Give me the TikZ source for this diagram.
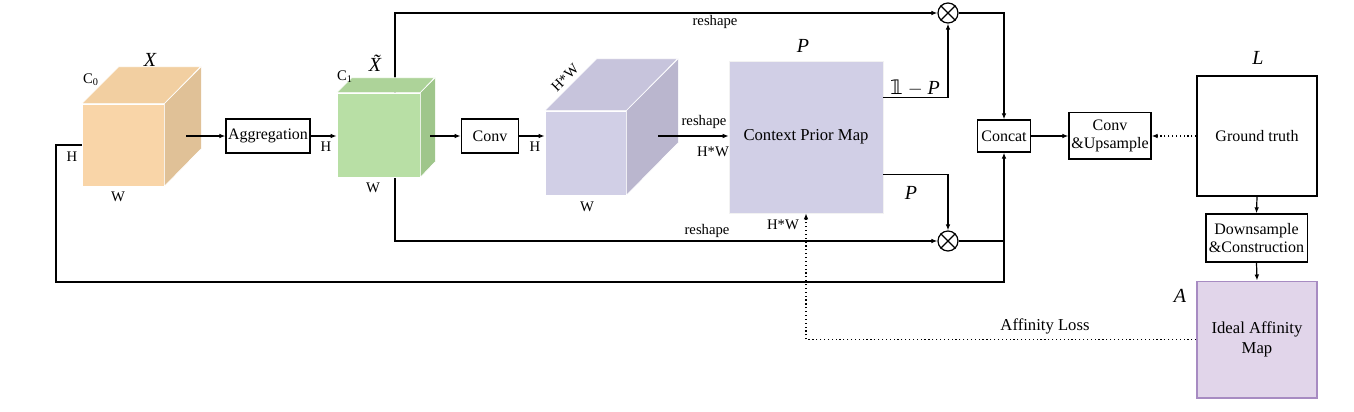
\documentclass[tikz,border=0pt]{standalone}
\usepackage{fontspec}
\setmainfont{Liberation Serif}
\newfontfamily\symfont{DejaVu Sans}
\usetikzlibrary{arrows.meta,calc}

\definecolor{xfront}{HTML}{F9D5A8}
\definecolor{xtop}{HTML}{F2CFA1}
\definecolor{xside}{HTML}{E0C197}
\definecolor{gfront}{HTML}{B8DFA5}
\definecolor{gtop}{HTML}{ADD399}
\definecolor{gside}{HTML}{9FC68B}
\definecolor{pfront}{HTML}{D1CFE6}
\definecolor{ptop}{HTML}{C7C4DC}
\definecolor{pside}{HTML}{BAB6CE}
\definecolor{iamfill}{HTML}{E1D5EA}
\definecolor{iamline}{HTML}{A78BC2}

\tikzset{
  box/.style={draw, line width=1pt, inner sep=1.5pt, align=center, font=\fontsize{12}{13.5}\selectfont},
  lbl/.style={inner sep=1pt, font=\fontsize{11}{12}\selectfont},
  sym/.style={inner sep=1pt, font=\fontsize{15}{16}\selectfont\itshape},
  face/.style={draw=white, line width=0.5pt},
  arr/.style={line width=0.9pt, -{Latex[length=4.5pt,width=3.5pt]}},
  wire/.style={line width=0.9pt},
  mul/.style={draw, circle, line width=0.9pt, minimum size=15pt, inner sep=0pt}
}

\begin{document}
\begin{tikzpicture}
[x=0.75pt,y=-0.75pt]
  \useasboundingbox (0,0) rectangle (1354,411);

  % splits from the green cube, drawn behind it
  \coordinate (gsplit) at (395,136);
  \node[mul] (mulT) at (948,13) {};
  \node[mul] (mulB) at (948,241) {};
  \draw[wire] (mulT.north west) -- (mulT.south east) (mulT.north east) -- (mulT.south west);
  \draw[wire] (mulB.north west) -- (mulB.south east) (mulB.north east) -- (mulB.south west);
  \draw[arr] (gsplit) |- (mulT.west);
  \draw[arr] (gsplit) |- (mulB.west);
  \draw (715,22) node[lbl]{reshape};
  \draw (707,231) node[lbl]{reshape};

  % cube X
  \node[face, fill=xfront, minimum width=61.5pt, minimum height=61.5pt, inner sep=0pt] (X) at (123,145) {};
  \fill[xtop, face] (X.north west) -- ++(37,-37) -- ++(82,0) -- (X.north east) -- cycle;
  \fill[xside, face] (X.north east) -- ++(37,-37) -- ++(0,82) -- (X.south east) -- cycle;
  \draw (150,60) node[sym]{X};
  \draw (91,80) node[lbl]{C\textsubscript{0}};
  \draw (72,157) node[lbl]{H};
  \draw (118,197) node[lbl]{W};
  \coordinate (Xout) at (186,136);

  % aggregation
  \node[box, minimum width=63pt, minimum height=25.5pt] (agg) at (268,136) {Aggregation};
  \draw[arr] (Xout) -- (agg.west);

  % cube X tilde
  \node[face, fill=gfront, minimum width=62.25pt, minimum height=63pt, inner sep=0pt] (G) at (378.5,135) {};
  \fill[gtop, face] (G.north west) -- ++(15,-15) -- ++(83,0) -- (G.north east) -- cycle;
  \fill[gside, face] (G.north east) -- ++(15,-15) -- ++(0,84) -- (G.south east) -- cycle;
  \draw[arr] (agg.east) -- (G.west |- agg.east);
  \draw (375,63) node[sym]{\~{X}};
  \draw (345,77) node[lbl]{C\textsubscript{1}};
  \draw (326,147) node[lbl]{H};
  \draw (373,188) node[lbl]{W};
  \coordinate (Gout) at (430,136);

  % conv
  \node[box, minimum width=43pt, minimum height=25.5pt] (conv) at (490,136) {Conv};
  \draw[arr] (Gout) -- (conv.west);

  % cube H*W
  \node[face, fill=pfront, minimum width=60.75pt, minimum height=63pt, inner sep=0pt] (Pc) at (585.5,153) {};
  \fill[ptop, face] (Pc.north west) -- ++(52,-52) -- ++(81,0) -- (Pc.north east) -- cycle;
  \fill[pside, face] (Pc.north east) -- ++(52,-52) -- ++(0,84) -- (Pc.south east) -- cycle;
  \draw[arr] (conv.east) -- (Pc.west |- conv.east);
  \draw (535,147) node[lbl]{H};
  \draw (565,78) node[lbl, rotate=45]{H*W};
  \draw (587,207) node[lbl]{W};
  \coordinate (Pout) at (658,136);

  % context prior map
  \node[draw=white!90!gray, fill=pfront, minimum width=115.5pt, minimum height=114pt, font=\fontsize{12.5}{14}\selectfont] (cpm) at (806,137) {Context Prior Map};
  \draw[arr] (Pout) -- (cpm.west |- Pout);
  \draw (704,122) node[lbl]{reshape};
  \draw (713,152) node[lbl]{H*W};
  \draw (803,46) node[sym]{P};
  \draw[arr] ($(cpm.north east)+(0,37)$) -| (mulT.south);
  \draw[arr] ($(cpm.south east)+(0,-39)$) -| (mulB.north);
  \draw (915,88) node[inner sep=1pt, font=\fontsize{15}{16}\selectfont]{{\symfont 𝟙} $-$ \textit{P}};
  \draw (911,193) node[sym]{P};
  \draw (783,225) node[lbl]{H*W};

  % concat
  \node[box, minimum width=40pt, minimum height=24pt] (concat) at (1004,136) {Concat};
  \draw[arr] (mulT.east) -| (concat.north);
  \draw[wire] (mulB.east) -- (mulB -| concat.south);
  \coordinate (loopL) at (56,282);
  \draw[arr] (X.west) -| (loopL) -| (concat.south);

  % conv & upsample
  \node[box, minimum width=61.5pt, minimum height=35pt] (convup) at (1110,135.5) {Conv\\\&Upsample};
  \draw[arr] (concat.east) -- (convup.west |- concat.east);

  % ground truth
  \node[box, minimum width=90pt, minimum height=90pt] (gt) at (1257,136) {Ground truth};
  \draw (1258,58) node[sym]{L};
  \draw[arr, dotted] (gt.west) -- (convup.east |- gt.west);

  % downsample
  \node[box, minimum width=76pt, minimum height=36pt] (down) at (1256.5,238) {Downsample\\\&Construction};
  \draw[arr] (gt.south) -- (down.north);

  % ideal affinity map
  \node[draw=iamline, fill=iamfill, line width=1pt, minimum width=90pt, minimum height=87.5pt, align=center, font=\fontsize{12.5}{15}\selectfont] (iam) at (1257,339.5) {Ideal Affinity\\Map};
  \draw[arr] (down.south) -- (iam.north);
  \draw (1180,296) node[sym]{A};
  \draw[arr, dotted] (iam.west) -| (cpm.south);
  \draw (1045,326) node[lbl, font=\fontsize{12.5}{14}\selectfont]{Affinity Loss};
\end{tikzpicture}
\end{document}
